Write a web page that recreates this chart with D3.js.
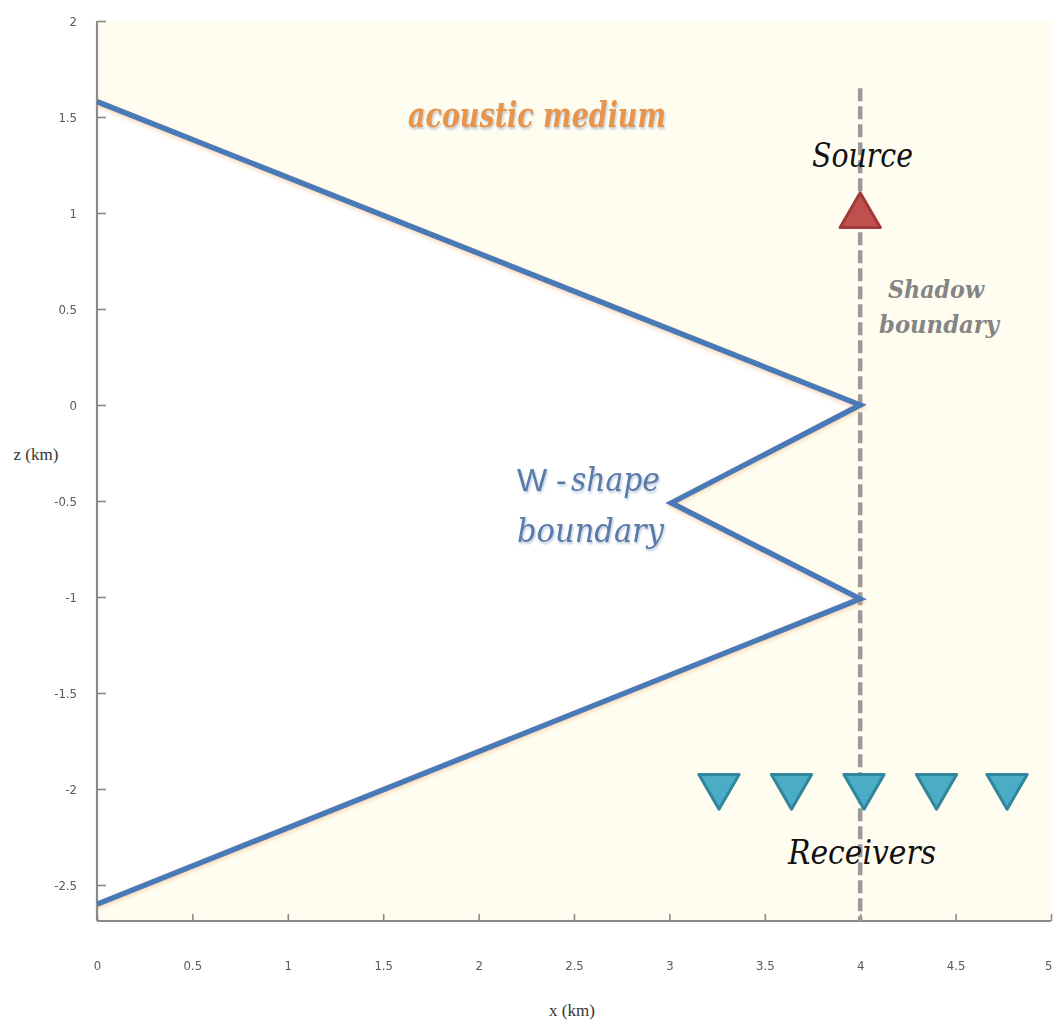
<!DOCTYPE html>
<html>
<head>
<meta charset="utf-8">
<script src="https://cdn.jsdelivr.net/npm/d3@7"></script>
<style>
  html, body { margin: 0; padding: 0; background: #ffffff; }
  svg { display: block; }
</style>
</head>
<body>
<svg id="chart" width="1053" height="1023"></svg>
<script>
// W-shaped boundary in an acoustic medium (x, z in km)
const boundaryX = [0, 4, 3.01, 4, 0];
const boundaryZ = [1.58, 0, -0.51, -1.01, -2.6];

const sourceX = [4];
const sourceZ = [1.0];

const receiverX = [3.26, 3.64, 4.02, 4.4, 4.77];
const receiverZ = [-2, -2, -2, -2, -2];

const shadowX = 4;
const shadowZTop = 1.65;

const xTicks = [0, 0.5, 1, 1.5, 2, 2.5, 3, 3.5, 4, 4.5, 5];
const xTickLabels = ["0", "0.5", "1", "1.5", "2", "2.5", "3", "3.5", "4", "4.5", "5"];
const zTicks = [2, 1.5, 1, 0.5, 0, -0.5, -1, -1.5, -2, -2.5];
const zTickLabels = ["2", "1.5", "1", "0.5", "0", "-0.5", "-1", "-1.5", "-2", "-2.5"];

const svg = d3.select("#chart");
const plotLeft = 97, plotRight = 1051, plotTop = 21, plotBottom = 921;

const x = d3.scaleLinear().domain([0, 5]).range([plotLeft, plotRight]);
const z = d3.scaleLinear().domain([-2.6875, 2]).range([plotBottom, plotTop]);

const defs = svg.append("defs");
const glow = defs.append("filter").attr("id", "lineGlow")
  .attr("x", "-10%").attr("y", "-10%").attr("width", "120%").attr("height", "120%");
glow.append("feDropShadow").attr("dx", 0).attr("dy", 2).attr("stdDeviation", 2)
  .attr("flood-color", "#e8a860").attr("flood-opacity", 0.45);

const txtShadow = defs.append("filter").attr("id", "textShadow")
  .attr("x", "-10%").attr("y", "-20%").attr("width", "120%").attr("height", "140%");
txtShadow.append("feDropShadow").attr("dx", 1).attr("dy", 2).attr("stdDeviation", 1.2)
  .attr("flood-color", "#7f9cc0").attr("flood-opacity", 0.55);

const soft = defs.append("filter").attr("id", "soft");
soft.append("feGaussianBlur").attr("stdDeviation", 0.5);

defs.append("clipPath").attr("id", "plotClip")
  .append("rect").attr("x", plotLeft).attr("y", plotTop)
  .attr("width", plotRight - plotLeft).attr("height", plotBottom - plotTop);

// medium background
svg.append("rect")
  .attr("x", plotLeft).attr("y", plotTop)
  .attr("width", plotRight - plotLeft).attr("height", plotBottom - plotTop)
  .attr("fill", "#fffdf0");

const pts = boundaryX.map((d, i) => [x(d), z(boundaryZ[i])]);

// interior of the wedge
svg.append("path")
  .attr("clip-path", "url(#plotClip)")
  .attr("d", d3.line()(pts) + "Z")
  .attr("fill", "#ffffff");

// axes
const xAxis = d3.axisBottom(x).tickValues(xTicks)
  .tickFormat((d, i) => xTickLabels[i]).tickSize(-7).tickPadding(40);
const zAxis = d3.axisLeft(z).tickValues(zTicks)
  .tickFormat((d, i) => zTickLabels[i]).tickSize(-9).tickPadding(20);

const gx = svg.append("g").attr("transform", `translate(0,${plotBottom})`).call(xAxis);
const gz = svg.append("g").attr("transform", `translate(${plotLeft},0)`).call(zAxis);

[gx, gz].forEach(g => {
  g.select(".domain").attr("stroke", "#8a8a8a").attr("stroke-width", 2.2);
  g.selectAll(".tick line").attr("stroke", "#8a8a8a").attr("stroke-width", 1.6);
  g.selectAll(".tick text")
    .attr("fill", "#5a5a5a")
    .style("font-family", "'Liberation Sans Narrow', 'DejaVu Sans Condensed', sans-serif")
    .style("font-size", "13px")
    .attr("filter", "url(#soft)");
});
// last x label sits at the right edge of the frame
gx.selectAll(".tick text").filter(d => d === 5).attr("text-anchor", "end").attr("dx", 1);
gz.select(".domain").attr("d", `M0,${plotBottom}V${plotTop}`);
gx.select(".domain").attr("d", `M${plotLeft},0H${plotRight}`);

// shadow boundary (dashed)
svg.append("line")
  .attr("x1", x(shadowX)).attr("x2", x(shadowX))
  .attr("y1", z(shadowZTop)).attr("y2", plotBottom)
  .attr("stroke", "#9a9a9a").attr("stroke-width", 4.5)
  .attr("stroke-dasharray", "13 5");

// boundary line
svg.append("path")
  .attr("d", d3.line()(pts))
  .attr("fill", "none")
  .attr("stroke", "#4a7ab8")
  .attr("stroke-width", 5.5)
  .attr("stroke-linejoin", "miter")
  .attr("filter", "url(#lineGlow)");

// source
const triUp = d3.symbol().type(d3.symbolTriangle).size(700);
svg.selectAll(".src").data(sourceX).join("path")
  .attr("class", "src")
  .attr("transform", (d, i) => `translate(${x(d)},${z(sourceZ[i]) + 3})`)
  .attr("d", triUp())
  .attr("fill", "#c0504d").attr("stroke", "#a03a38").attr("stroke-width", 3)
  .attr("stroke-linejoin", "round");

// receivers
svg.selectAll(".rec").data(receiverX).join("path")
  .attr("class", "rec")
  .attr("transform", (d, i) => `translate(${x(d)},${z(receiverZ[i]) - 3}) rotate(180)`)
  .attr("d", triUp())
  .attr("fill", "#4bacc6").attr("stroke", "#31859c").attr("stroke-width", 3)
  .attr("stroke-linejoin", "round");

// annotations
const serif = "'DejaVu Serif', 'Liberation Serif', serif";

svg.append("text")
  .attr("x", 408).attr("y", 127)
  .attr("textLength", 258).attr("lengthAdjust", "spacingAndGlyphs")
  .style("font-family", serif).style("font-style", "italic").style("font-weight", "bold")
  .style("font-size", "36px")
  .attr("fill", "#e8944a")
  .attr("filter", "url(#textShadow)")
  .text("acoustic medium");

svg.append("text")
  .attr("x", 812).attr("y", 167)
  .attr("textLength", 101).attr("lengthAdjust", "spacingAndGlyphs")
  .style("font-family", serif).style("font-style", "italic")
  .style("font-size", "33px")
  .attr("fill", "#111")
  .text("Source");

svg.append("text")
  .attr("x", 888).attr("y", 298)
  .attr("textLength", 96).attr("lengthAdjust", "spacingAndGlyphs")
  .style("font-family", serif).style("font-style", "italic").style("font-weight", "bold")
  .style("font-size", "24px")
  .attr("fill", "#858585")
  .text("Shadow");
svg.append("text")
  .attr("x", 879).attr("y", 333)
  .attr("textLength", 120).attr("lengthAdjust", "spacingAndGlyphs")
  .style("font-family", serif).style("font-style", "italic").style("font-weight", "bold")
  .style("font-size", "24px")
  .attr("fill", "#858585")
  .text("boundary");

svg.append("text")
  .attr("x", 517).attr("y", 491)
  .style("font-family", "'Liberation Sans', sans-serif")
  .style("font-size", "32px")
  .attr("fill", "#5a7aa8")
  .attr("filter", "url(#textShadow)")
  .text("W -");

svg.append("text")
  .attr("x", 571).attr("y", 491)
  .attr("textLength", 89).attr("lengthAdjust", "spacingAndGlyphs")
  .style("font-family", serif).style("font-style", "italic")
  .style("font-size", "33px")
  .attr("fill", "#5a7aa8")
  .attr("filter", "url(#textShadow)")
  .text("shape");

svg.append("text")
  .attr("x", 517).attr("y", 542)
  .attr("textLength", 147).attr("lengthAdjust", "spacingAndGlyphs")
  .style("font-family", serif).style("font-style", "italic")
  .style("font-size", "33px")
  .attr("fill", "#5a7aa8")
  .attr("filter", "url(#textShadow)")
  .text("boundary");

svg.append("text")
  .attr("x", 788).attr("y", 864)
  .attr("textLength", 148).attr("lengthAdjust", "spacingAndGlyphs")
  .style("font-family", serif).style("font-style", "italic")
  .style("font-size", "33px")
  .attr("fill", "#111")
  .text("Receivers");

// axis titles
svg.append("text")
  .attr("x", 36).attr("y", 460).attr("text-anchor", "middle")
  .style("font-family", "'Liberation Serif', serif").style("font-size", "17px")
  .attr("fill", "#333")
  .text("z (km)");
svg.append("text")
  .attr("x", 572).attr("y", 1016).attr("text-anchor", "middle")
  .style("font-family", "'Liberation Serif', serif").style("font-size", "17px")
  .attr("fill", "#333")
  .text("x (km)");
</script>
</body>
</html>
